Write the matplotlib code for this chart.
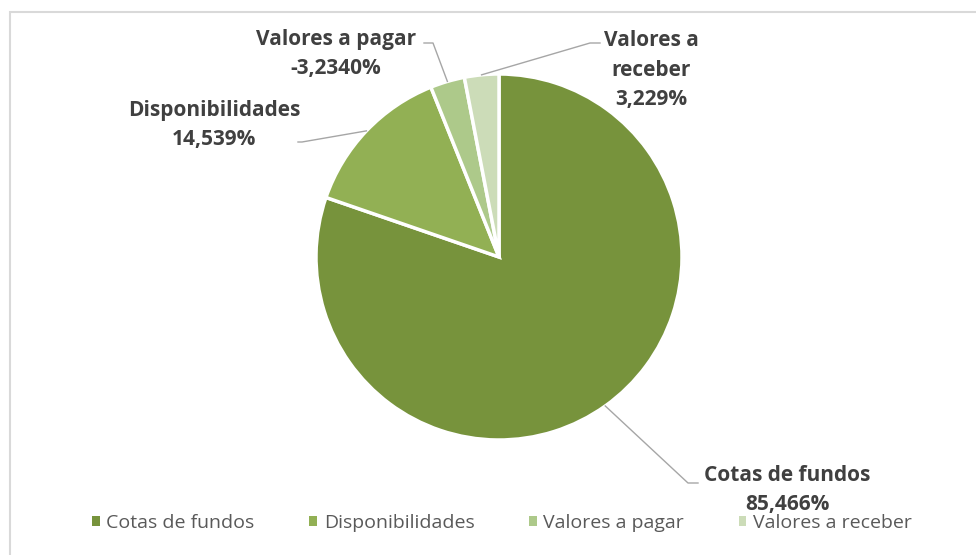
import numpy as np
import matplotlib
matplotlib.use('Agg')
import matplotlib.pyplot as plt
from matplotlib.patches import Rectangle

# data
categorias = ['Cotas de fundos', 'Disponibilidades', 'Valores a pagar', 'Valores a receber']
valores = [85.466, 14.539, -3.234, 3.229]
rotulos = ['Cotas de fundos\n85,466%', 'Disponibilidades\n14,539%',
           'Valores a pagar\n-3,2340%', 'Valores a\nreceber\n3,229%']
cores = ['#77933C', '#92B054', '#ADC98A', '#CCDCB8']

W, H = 976, 555
fig = plt.figure(figsize=(W / 100, H / 100), dpi=100)
ax = fig.add_axes([0, 0, 1, 1])

# chart frame (cut at right and bottom)
ax.add_patch(Rectangle((9.5, -5), W, H - 12 + 5, fill=False, edgecolor='#D9D9D9', lw=1.5))

cx, cy, r = 499, H - 257, 183
wedges, _ = ax.pie(np.abs(valores), colors=cores, startangle=90, counterclock=False,
                   center=(cx, cy), radius=r, frame=True,
                   wedgeprops=dict(edgecolor='white', linewidth=2.5))
ax.set_xlim(0, W)
ax.set_ylim(0, H)
ax.set_aspect('equal')
ax.axis('off')

# leader lines: elbow and end points (pixels from top), label centres
cotovelos = [[(688, 483), (698, 483)], [(302, 142), (298, 142)],
             [(433, 43), (424, 43)], [(590, 43), (600, 43)]]
pos_rotulo = [(787, 490), (214, 125), (336, 54), (651, 70)]

for w, cot, pos, txt in zip(wedges, cotovelos, pos_rotulo, rotulos):
    ang = np.deg2rad((w.theta1 + w.theta2) / 2)
    x0, y0 = cx + r * np.cos(ang), cy + r * np.sin(ang)
    xs = [x0] + [p[0] for p in cot]
    ys = [y0] + [H - p[1] for p in cot]
    ax.plot(xs, ys, color='#A6A6A6', lw=1)
    ax.text(pos[0], H - pos[1], txt, ha='center', va='center', fontsize=15,
            fontweight='bold', color='#404040', family=['Open Sans', 'DejaVu Sans'],
            linespacing=1.5)

leg = fig.legend(wedges, categorias, loc='center', bbox_to_anchor=(502 / W, 1 - 523 / H),
                 ncol=4, frameon=False, handlelength=0.4, handleheight=0.4,
                 handletextpad=0.35, columnspacing=2.8,
                 prop=dict(family=['Open Sans', 'DejaVu Sans'], size=14))
for h in leg.legend_handles:
    h.set_edgecolor('none')
for t in leg.get_texts():
    t.set_color('#595959')

fig.savefig('out.png', dpi=100, facecolor='white')
